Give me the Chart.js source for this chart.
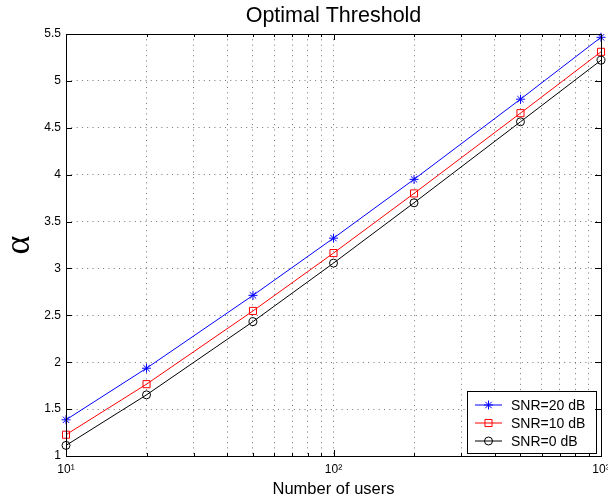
<!DOCTYPE html>
<html>
<head>
<meta charset="utf-8">
<script src="https://cdn.jsdelivr.net/npm/chart.js@4/dist/chart.umd.min.js"></script>
<style>
  html, body { margin: 0; padding: 0; background: #fff; }
  #wrap { width: 608px; height: 501px; }
</style>
</head>
<body>
<div id="wrap"><canvas id="c" width="608" height="501"></canvas></div>
<script>
const chartTitle = 'Optimal Threshold';
const xAxisLabel = 'Number of users';
const yAxisLabel = 'α';

const users = [10, 20, 50, 100, 200, 500, 1000];
const snr20 = [1.386, 1.936, 2.713, 3.323, 3.95, 4.805, 5.465];
const snr10 = [1.227, 1.766, 2.547, 3.164, 3.80, 4.656, 5.31];
const snr0  = [1.113, 1.652, 2.433, 3.057, 3.70, 4.564, 5.22];
const seriesLabels = ['SNR=20 dB', 'SNR=10 dB', 'SNR=0 dB'];

const xTickValues = [10, 20, 30, 40, 50, 60, 70, 80, 90, 100, 200, 300, 400, 500, 600, 700, 800, 900, 1000];
const xMajorTicks = [10, 100, 1000];
const xMajorLabels = ['10¹', '10²', '10³'];
const yTickValues = [1, 1.5, 2, 2.5, 3, 3.5, 4, 4.5, 5, 5.5];
const yTickLabels = ['1', '1.5', '2', '2.5', '3', '3.5', '4', '4.5', '5', '5.5'];

Chart.defaults.font.family = "'Liberation Sans', Arial, sans-serif";
Chart.defaults.color = '#000';

function pts(ys) { return users.map((u, i) => ({ x: u, y: ys[i] })); }

const styles = [
  { color: 'rgb(0,0,255)', pointStyle: 'star', radius: 4.5 },
  { color: 'rgb(255,0,0)', pointStyle: 'rect', radius: 5 },
  { color: 'rgb(0,0,0)', pointStyle: 'circle', radius: 4 }
];
const seriesData = [snr20, snr10, snr0];

const datasets = seriesData.map((d, i) => ({
  label: seriesLabels[i],
  data: pts(d),
  borderColor: styles[i].color,
  backgroundColor: 'rgba(0,0,0,0)',
  pointBackgroundColor: 'rgba(0,0,0,0)',
  pointBorderColor: styles[i].color,
  pointStyle: styles[i].pointStyle,
  pointRadius: styles[i].radius,
  pointBorderWidth: 1,
  borderWidth: 1,
  tension: 0,
  clip: false
}));

const boxPlugin = {
  id: 'boxPlugin',
  afterDraw(chart) {
    const ctx = chart.ctx;
    const a = chart.chartArea;
    const xs = chart.scales.x, ys = chart.scales.y;
    ctx.save();
    ctx.strokeStyle = '#000';
    ctx.lineWidth = 1;
    ctx.beginPath();
    xTickValues.forEach(v => {
      const px = Math.round(xs.getPixelForValue(v)) + 0.5;
      const len = xMajorTicks.includes(v) ? 6 : 3;
      ctx.moveTo(px, a.bottom); ctx.lineTo(px, a.bottom - len);
      ctx.moveTo(px, a.top); ctx.lineTo(px, a.top + len);
    });
    yTickValues.forEach(v => {
      const py = Math.round(ys.getPixelForValue(v)) + 0.5;
      ctx.moveTo(a.left, py); ctx.lineTo(a.left + 6, py);
      ctx.moveTo(a.right, py); ctx.lineTo(a.right - 6, py);
    });
    ctx.stroke();
    ctx.strokeRect(Math.round(a.left) + 0.5, Math.round(a.top) + 0.5,
                   Math.round(a.right - a.left), Math.round(a.bottom - a.top));
    ctx.restore();
  },
  afterDatasetsDraw(chart) {
    const ctx = chart.ctx;
    const a = chart.chartArea;
    const bx = a.right - 134, by = a.bottom - 65, bw = 129, bh = 62;
    ctx.save();
    ctx.fillStyle = '#fff';
    ctx.fillRect(bx, by, bw, bh);
    ctx.strokeStyle = '#000';
    ctx.lineWidth = 1;
    ctx.strokeRect(Math.round(bx) + 0.5, Math.round(by) + 0.5, bw, bh);
    ctx.font = "14px 'Liberation Sans', Arial, sans-serif";
    ctx.textBaseline = 'middle';
    ctx.textAlign = 'left';
    chart.data.datasets.forEach((ds, i) => {
      const cy = by + 14 + i * 18;
      const x0 = bx + 8, x1 = bx + 35;
      ctx.strokeStyle = ds.borderColor;
      ctx.lineWidth = 1;
      ctx.beginPath();
      ctx.moveTo(x0, cy); ctx.lineTo(x1, cy);
      ctx.stroke();
      ctx.fillStyle = 'rgba(0,0,0,0)';
      Chart.helpers.drawPoint(ctx, {
        pointStyle: ds.pointStyle, radius: ds.pointRadius, rotation: 0, borderWidth: 1
      }, (x0 + x1) / 2, cy);
      ctx.fillStyle = '#000';
      ctx.fillText(ds.label, bx + 44, cy + 1);
    });
    ctx.restore();
  }
};

new Chart(document.getElementById('c'), {
  type: 'line',
  data: { datasets },
  options: {
    responsive: false,
    animation: false,
    devicePixelRatio: 1,
    layout: { padding: { left: 0, right: 7, top: 0, bottom: 0 } },
    plugins: {
      legend: { display: false },
      tooltip: { enabled: false },
      title: {
        display: true,
        text: chartTitle,
        fullSize: false,
        font: { size: 21.5, weight: 'normal', lineHeight: 1.1 },
        color: '#000',
        padding: { top: 4, bottom: 6.35 }
      }
    },
    scales: {
      x: {
        type: 'logarithmic',
        min: 10,
        max: 1000,
        afterBuildTicks(s) {
          s.ticks = xTickValues.map(v => ({ value: v, major: xMajorTicks.includes(v) }));
        },
        afterFit(s) { s.height = 45; s.paddingLeft = 0; s.paddingRight = 0; },
        ticks: {
          autoSkip: false,
          maxRotation: 0,
          minRotation: 0,
          padding: 6,
          font: { size: 12 },
          callback(value) {
            const i = xMajorTicks.indexOf(value);
            return i >= 0 ? xMajorLabels[i] : '';
          }
        },
        grid: { color: 'rgba(0,0,0,0.55)', lineWidth: 1, drawTicks: false },
        border: { display: false, dash: [1, 4.3] },
        title: {
          display: true,
          text: xAxisLabel,
          font: { size: 16.5 },
          color: '#000',
          padding: { top: 0, bottom: 2 }
        }
      },
      y: {
        type: 'linear',
        min: 1,
        max: 5.5,
        afterBuildTicks(s) {
          s.ticks = yTickValues.map(v => ({ value: v }));
        },
        afterFit(s) { s.width = 66; s.paddingTop = 0; s.paddingBottom = 0; },
        ticks: {
          padding: 5,
          font: { size: 12 },
          callback(value) {
            const i = yTickValues.indexOf(value);
            return i >= 0 ? yTickLabels[i] : '';
          }
        },
        grid: { color: 'rgba(0,0,0,0.55)', lineWidth: 1, drawTicks: false },
        border: { display: false, dash: [1, 4.3] },
        title: {
          display: true,
          text: yAxisLabel,
          font: { size: 36, family: "'Liberation Serif', 'Times New Roman', serif", lineHeight: 1 },
          color: '#000',
          padding: { top: 2, bottom: 0 }
        }
      }
    }
  },
  plugins: [boxPlugin]
});
</script>
</body>
</html>
